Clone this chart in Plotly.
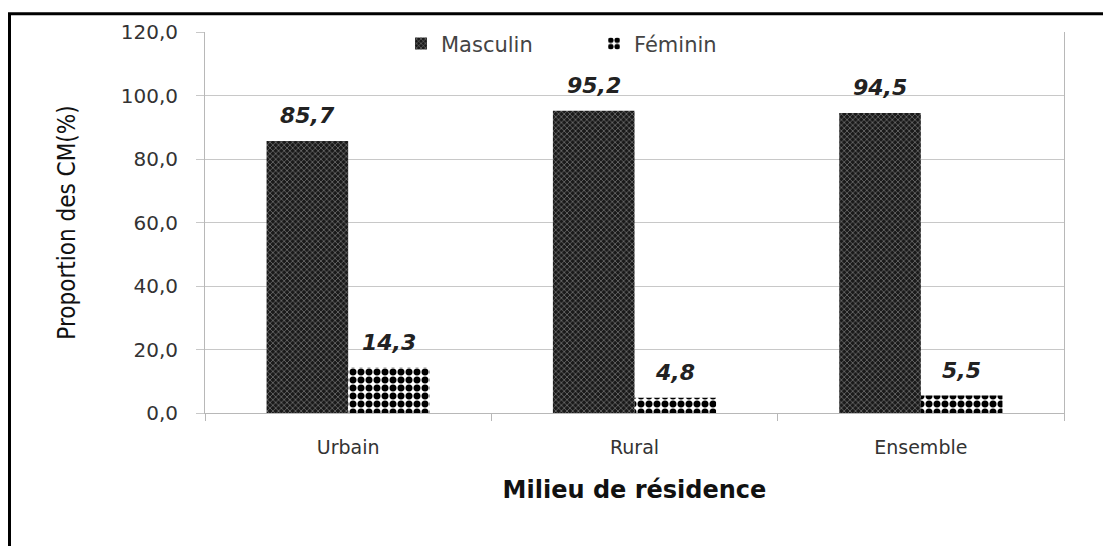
import plotly.graph_objects as go

categories = ["Urbain", "Rural", "Ensemble"]
masculin = [85.7, 95.2, 94.5]
feminin = [14.3, 4.8, 5.5]
y_ticks = [0, 20, 40, 60, 80, 100, 120]

def lab(v):
    return [f"{x:.1f}".replace(".", ",") for x in v]

W, H = 1103, 538
L, R, T, B = 197, 47, 20, 133
PW = W - L - R
PH = H - T - B
BAR_PX = PW / 3 * (1 - 0.43) / 2

fig = go.Figure()
fig.add_trace(go.Bar(
    x=categories, y=masculin, name="Masculin",
    marker=dict(color="#222", line=dict(width=0),
                pattern=dict(shape="x", bgcolor="#1a1a1a", fgcolor="#9a9a9a", size=4, solidity=0.25, fillmode="replace")),
))
fig.add_trace(go.Bar(
    x=categories, y=feminin, name="Féminin",
    marker=dict(color="white", line=dict(width=0),
                pattern=dict(shape=".", bgcolor="white", fgcolor="black", size=8, solidity=0.6, fillmode="replace")),
))

annotations = []
for vals, sign in ((masculin, -1), (feminin, 1)):
    for c, v, t in zip(categories, vals, lab(vals)):
        annotations.append(dict(
            x=c, y=v, xref="x", yref="y", text=f"<b><i>{t}</i></b>",
            showarrow=False, yanchor="bottom", yshift=11, xshift=sign * BAR_PX / 2,
            font=dict(family="DejaVu Sans", size=22, color="#222"),
        ))

fig.update_layout(
    width=W, height=H,
    margin=dict(l=L, r=R, t=T, b=B),
    paper_bgcolor="white", plot_bgcolor="white",
    separators=", ",
    barmode="group", bargap=0.43, bargroupgap=0,
    showlegend=True,
    legend=dict(orientation="h", x=(393 - L) / PW, y=0.969, xanchor="left", yanchor="middle",
                font=dict(family="DejaVu Sans", size=21, color="#444"),
                entrywidth=148, entrywidthmode="pixels",
                bgcolor="rgba(0,0,0,0)"),
    font=dict(family="DejaVu Sans", color="#333"),
    annotations=annotations,
    xaxis=dict(
        showline=True, linecolor="#b8b8b8", linewidth=1,
        ticks="outside", tickson="boundaries", ticklen=7, tickcolor="#b8b8b8",
        ticklabelstandoff=17,
        tickfont=dict(family="DejaVu Sans", size=19, color="#333"),
        title=dict(text="<b>Milieu de résidence</b>", standoff=24,
                   font=dict(family="DejaVu Sans", size=24, color="#111")),
    ),
    yaxis=dict(
        range=[0, 120], tickvals=y_ticks, tickformat=".1f",
        showline=True, linecolor="#b8b8b8", linewidth=1, mirror=True,
        showgrid=True, gridcolor="#c8c8c8", gridwidth=1,
        ticks="outside", ticklen=8, tickcolor="#c8c8c8",
        ticklabelstandoff=14,
        tickfont=dict(family="DejaVu Sans", size=20, color="#333"),
        title=dict(text="Proportion des CM(%)", standoff=38,
                   font=dict(family="Liberation Sans Narrow, DejaVu Sans Condensed, sans-serif", size=24, color="#111")),
        zeroline=False,
    ),
    shapes=[dict(type="rect", xref="paper", yref="paper",
                 x0=(1.5 - L) / PW, x1=1.2, y0=-0.6, y1=1 + (T - 1.5) / PH,
                 line=dict(color="black", width=3), fillcolor="rgba(0,0,0,0)", layer="below")],
)

fig.write_html("out.html")
